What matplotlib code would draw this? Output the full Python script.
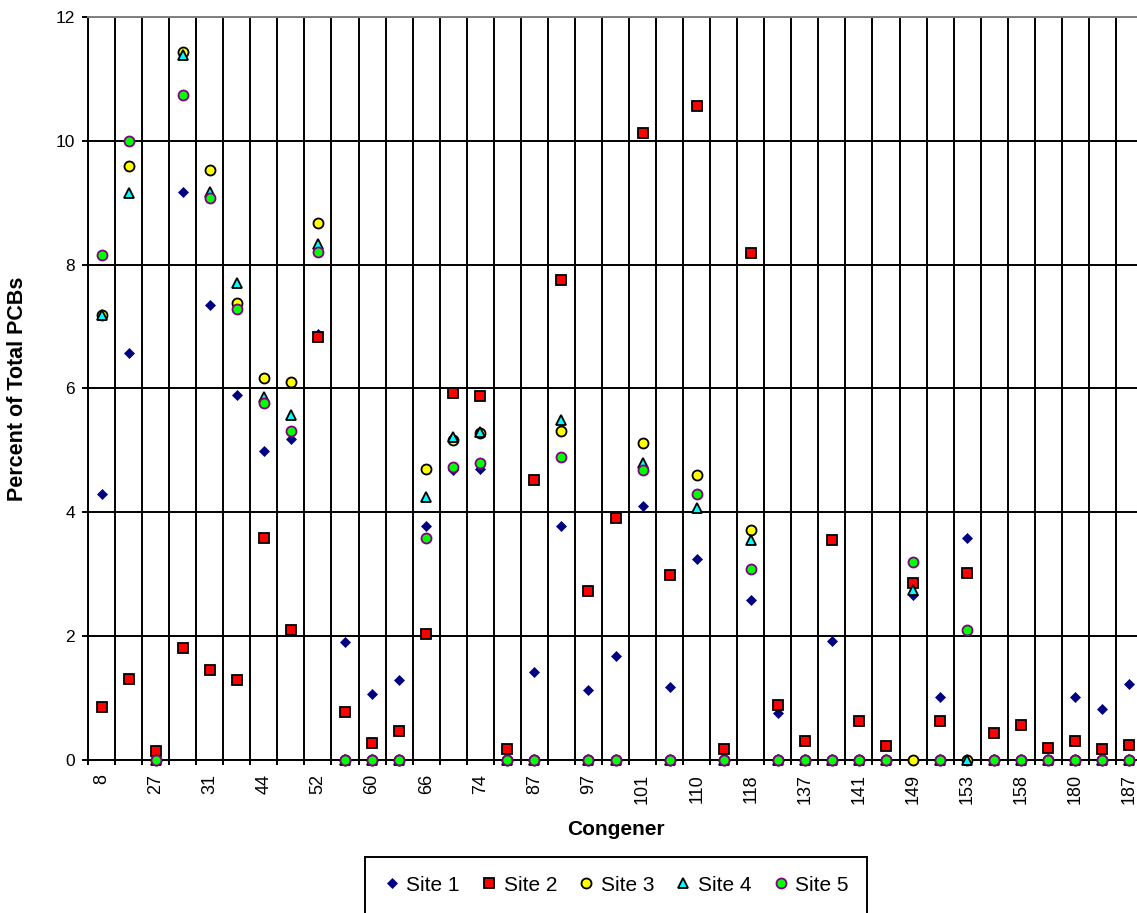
import matplotlib
matplotlib.use("Agg")
import matplotlib.pyplot as plt
import numpy as np

plt.rcParams['font.family'] = ['Liberation Sans', 'DejaVu Sans']

# congener names; only every other one is printed on the axis
congeners = ['8', '', '27', '', '31', '', '44', '', '52', '', '60', '', '66', '',
             '74', '', '87', '', '97', '', '101', '', '110', '', '118', '', '137', '',
             '141', '', '149', '', '153', '', '158', '', '180', '', '187']

site1 = [4.30, 6.57, 0, 9.17, 7.35, 5.90, 4.99, 5.18, 6.88, 1.91, 1.06, 1.29, 3.78,
         4.68, 4.70, 0, 1.42, 3.78, 1.13, 1.68, 4.10, 1.18, 3.25, 0, 2.59, 0.76, 0,
         1.93, 0, 0, 2.67, 1.02, 3.58, 0, 0, 0, 1.02, 0.83, 1.22]
site2 = [0.86, 1.31, 0.14, 1.81, 1.45, 1.29, 3.58, 2.10, 6.83, 0.77, 0.27, 0.47, 2.04,
         5.92, 5.88, 0.18, 4.53, 7.76, 2.73, 3.91, 10.13, 2.99, 10.56, 0.17, 8.19, 0.89,
         0.30, 3.55, 0.63, 0.23, 2.86, 0.63, 3.02, 0.43, 0.57, 0.20, 0.30, 0.17, 0.24]
site3 = [7.18, 9.59, 0, 11.43, 9.53, 7.38, 6.17, 6.10, 8.67, 0, 0, 0, 4.70,
         5.17, 5.28, 0, 0, 5.32, 0, 0, 5.12, 0, 4.60, 0, 3.71, 0, 0,
         0, 0, 0, 0, 0, 0, 0, 0, 0, 0, 0, 0]
site4 = [7.19, 9.16, 0, 11.39, 9.17, 7.71, 5.86, 5.58, 8.34, 0, 0, 0, 4.24,
         5.21, 5.29, 0, 0, 5.49, 0, 0, 4.79, 0, 4.07, 0, 3.55, 0, 0,
         0, 0, 0, 2.75, 0, 0, 0, 0, 0, 0, 0, 0]
site5 = [8.15, 9.99, 0, 10.74, 9.07, 7.29, 5.77, 5.32, 8.21, 0, 0, 0, 3.59,
         4.73, 4.79, 0, 0, 4.89, 0, 0, 4.68, 0, 4.30, 0, 3.09, 0, 0,
         0, 0, 0, 3.19, 0, 2.10, 0, 0, 0, 0, 0, 0]

series = [
    ('Site 1', site1, dict(marker='D', ms=5.2, mfc='#000080', mec='#000080', mew=0.5)),
    ('Site 2', site2, dict(marker='s', ms=7.0, mfc='#FF0000', mec='black', mew=1.3)),
    ('Site 3', site3, dict(marker='o', ms=7.2, mfc='#FFFF00', mec='black', mew=1.3)),
    ('Site 4', site4, dict(marker='^', ms=6.8, mfc='#00FFFF', mec='black', mew=1.3)),
    ('Site 5', site5, dict(marker='o', ms=7.2, mfc='#00FF00', mec='#800080', mew=1.3)),
]

fig = plt.figure(figsize=(11.37, 9.13), dpi=100)
# plot area runs slightly past the right edge of the figure
ax = fig.add_axes([88 / 1137, 153 / 913, 1055 / 1137, 743 / 913])

x = np.arange(len(congeners))
for name, vals, style in series:
    ax.plot(x, vals, linestyle='none', label=name, clip_on=False, zorder=3, **style)

ax.set_xlim(-0.5, len(congeners) - 0.5)
ax.set_ylim(0, 12)

ax.set_yticks(np.arange(0, 13, 2))
ax.set_xticks(x[::2])
ax.set_xticklabels(congeners[::2], rotation=90, fontsize=13)
ax.set_xticks(np.arange(-0.5, len(congeners), 1), minor=True)

ax.tick_params(axis='x', which='major', length=0, pad=10)
ax.tick_params(axis='x', which='minor', length=3.6, width=1.4, direction='out')
ax.tick_params(axis='y', length=4.3, width=1.4, direction='out', pad=5, labelsize=12.5)

ax.grid(True, axis='y', which='major', color='black', linewidth=1.4, zorder=1)
ax.grid(True, axis='x', which='minor', color='black', linewidth=1.4, zorder=1)
ax.set_axisbelow(True)

for side in ('left', 'bottom'):
    ax.spines[side].set_linewidth(1.4)
    ax.spines[side].set_color('black')
ax.spines['top'].set_color('#808080')
ax.spines['top'].set_linewidth(1.4)
ax.spines['right'].set_visible(False)

ax.set_xlabel('Congener', fontsize=15, fontweight='bold')
ax.xaxis.set_label_coords(0.5, -(820 - 760) / 743)
ax.set_ylabel('Percent of Total PCBs', fontsize=15.5, fontweight='bold')
ax.yaxis.set_label_coords((28 - 88) / 1055, 0.5)

leg = ax.legend(loc='upper center', bbox_to_anchor=(616 / 1137, 56 / 913),
                bbox_transform=fig.transFigure, ncol=5, frameon=True, fancybox=False,
                framealpha=1, edgecolor='black', fontsize=15, numpoints=1,
                handlelength=0.8, handletextpad=0.3, columnspacing=1.0,
                borderpad=0.9, borderaxespad=0)
leg.get_frame().set_linewidth(1.4)

fig.savefig('out.png', dpi=100)
